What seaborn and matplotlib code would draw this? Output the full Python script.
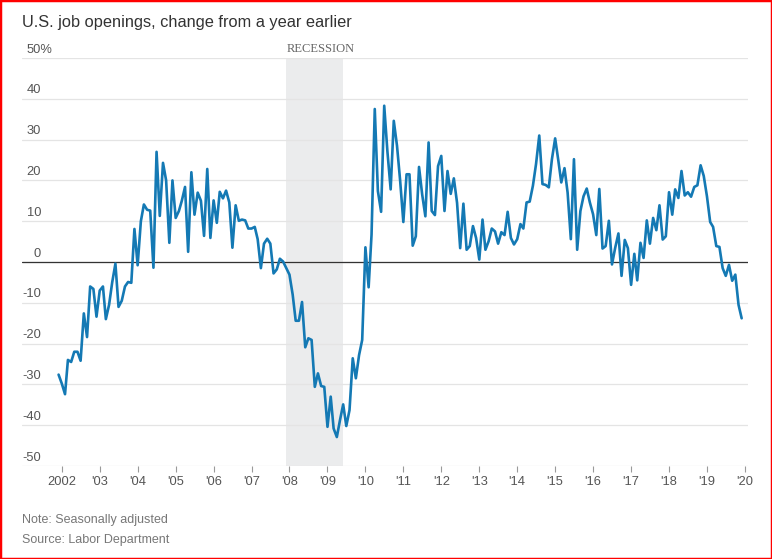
import pandas as pd
import numpy as np
import matplotlib
matplotlib.use("Agg")
import matplotlib.pyplot as plt
from matplotlib.patches import Rectangle
import seaborn as sns

# ---------------------------------------------------------------
# Data: U.S. job openings, % change from a year earlier (monthly,
# Dec 2001 - Dec 2019)
# ---------------------------------------------------------------
start_month = "2001-12-01"
pct_change = [
    -27.6, -29.8, -32.4, -24.0, -24.5, -22.0, -22.0, -24.2, -12.6, -18.4, -6.0, -6.6,
    -13.4, -7.0, -6.0, -14.0, -10.5, -5.0, -0.4, -11.0, -9.5, -6.0, -4.9, -5.1,
    8.1, -0.8, 10.0, 14.1, 12.8, 12.6, -1.4, 27.0, 11.3, 24.3, 20.0, 4.7,
    20.0, 10.8, 12.5, 15.0, 18.4, 2.5, 22.0, 11.6, 17.0, 15.0, 6.4, 22.8,
    5.9, 15.1, 9.6, 17.2, 15.6, 17.5, 14.6, 3.5, 13.9, 10.1, 10.4, 10.2,
    8.2, 8.2, 8.6, 5.6, -1.5, 4.5, 5.7, 4.5, -2.8, -1.8, 0.8, 0.1,
    -1.5, -3.1, -8.0, -14.4, -14.4, -9.8, -20.9, -18.7, -19.1, -30.6, -27.3, -30.4,
    -30.6, -40.4, -33.0, -40.8, -42.9, -38.8, -34.9, -40.2, -36.3, -23.6, -28.5, -22.8,
    -19.1, 3.6, -6.2, 6.7, 37.5, 17.4, 12.3, 38.3, 27.0, 17.8, 34.6, 28.5,
    20.0, 9.8, 21.5, 21.5, 4.0, 6.3, 23.3, 16.6, 11.2, 29.3, 12.5, 11.5,
    23.5, 26.0, 12.5, 22.3, 16.7, 20.5, 14.5, 3.4, 14.3, 3.0, 3.9, 8.8,
    5.9, 0.6, 10.4, 3.0, 5.1, 8.2, 7.5, 4.5, 7.3, 6.6, 12.3, 5.9,
    4.3, 5.6, 9.3, 8.2, 14.6, 14.8, 18.7, 24.0, 31.0, 19.1, 18.9, 18.3,
    25.2, 30.3, 24.8, 19.5, 23.0, 17.0, 5.6, 25.2, 3.0, 12.5, 16.1, 18.0,
    14.6, 11.7, 6.6, 17.9, 3.3, 3.9, 10.1, -0.6, 3.5, 7.0, -3.4, 5.4,
    3.4, -5.6, 2.0, -4.5, 4.7, 1.0, 10.2, 4.5, 10.8, 7.8, 13.9, 5.5,
    6.3, 17.1, 11.6, 17.8, 15.7, 22.3, 16.3, 17.1, 16.0, 18.4, 18.8, 23.7,
    21.1, 16.1, 9.8, 8.6, 3.9, 3.7, -1.5, -3.4, -0.7, -4.6, -3.1, -10.5,
    -13.8,
]
months = pd.date_range(start_month, periods=len(pct_change), freq="MS")

tick_years = list(range(2002, 2021))
tick_labels = ["2002", "'03", "'04", "'05", "'06", "'07", "'08", "'09", "'10",
               "'11", "'12", "'13", "'14", "'15", "'16", "'17", "'18", "'19", "'20"]
y_ticks = [50, 40, 30, 20, 10, 0, -10, -20, -30, -40, -50]
y_tick_labels = ["50%", "40", "30", "20", "10", "0", "-10", "-20", "-30", "-40", "-50"]

recession_start = "2007-12-01"
recession_end = "2009-06-01"

df = pd.DataFrame({"month": months, "change": pct_change})

# ---------------------------------------------------------------
# Plot
# ---------------------------------------------------------------
sns.set_style("white")
plt.rcParams["font.family"] = ["Liberation Sans", "DejaVu Sans"]

W, H = 772, 559
fig = plt.figure(figsize=(W / 100, H / 100), dpi=100)
ax_left, ax_right, ax_top, ax_bottom = 22, 748, 58, 466
ax = fig.add_axes([ax_left / W, 1 - ax_bottom / H,
                   (ax_right - ax_left) / W, (ax_bottom - ax_top) / H])

ax.axvspan(pd.Timestamp(recession_start), pd.Timestamp(recession_end),
           color="#ebeced", lw=0, zorder=0)

for v in y_ticks:
    ax.axhline(v, color="#e4e4e4", lw=0.9, zorder=1)
ax.axhline(0, color="#333333", lw=0.9, zorder=2)

sns.lineplot(data=df, x="month", y="change", ax=ax, color="#1479b4",
             linewidth=1.9, zorder=3)

ax.set_ylim(-50, 50)
ax.set_xlim(pd.Timestamp("2000-12-14"), pd.Timestamp("2020-01-31"))
for s in ax.spines.values():
    s.set_visible(False)

ax.set_xticks([pd.Timestamp(f"{y}-01-01") for y in tick_years])
ax.set_xticklabels(tick_labels)
ax.set_yticks([])
ax.tick_params(axis="x", length=4, width=0.8, color="#9a9a9a", direction="out",
               labelsize=9.3, labelcolor="#555555", pad=3, bottom=True)
ax.set_xlabel("")
ax.set_ylabel("")

# y labels sit just above their gridlines
ytr = ax.get_yaxis_transform()
lab_x = (41 - ax_left) / (ax_right - ax_left)
for v, lab in zip(y_ticks, y_tick_labels):
    if lab.endswith("%"):
        ax.text((27 - ax_left) / (ax_right - ax_left), v + 0.6, lab, transform=ytr,
                ha="left", va="bottom", fontsize=9.3, color="#555555", clip_on=False)
    else:
        ax.text(lab_x, v + 0.6, lab, transform=ytr, ha="right", va="bottom",
                fontsize=9.3, color="#555555", clip_on=False)

ax.text(pd.Timestamp(recession_start), 50.7, "RECESSION", ha="left", va="bottom",
        fontsize=9, color="#666666", family=["Liberation Serif", "DejaVu Serif"],
        clip_on=False)

fig.text(22 / W, 1 - 26.5 / H, "U.S. job openings, change from a year earlier",
         ha="left", va="baseline", fontsize=11.8, color="#333333")
fig.text(22 / W, 1 - 520 / H, "Note: Seasonally adjusted", ha="left", va="center",
         fontsize=9, color="#777777")
fig.text(22 / W, 1 - 540 / H, "Source: Labor Department", ha="left", va="center",
         fontsize=9, color="#777777")

fig.patches.append(Rectangle((0, 0), 1, 1, transform=fig.transFigure, fill=False,
                             edgecolor="#ff0000", lw=2.5))

fig.savefig("out.png", dpi=100)
